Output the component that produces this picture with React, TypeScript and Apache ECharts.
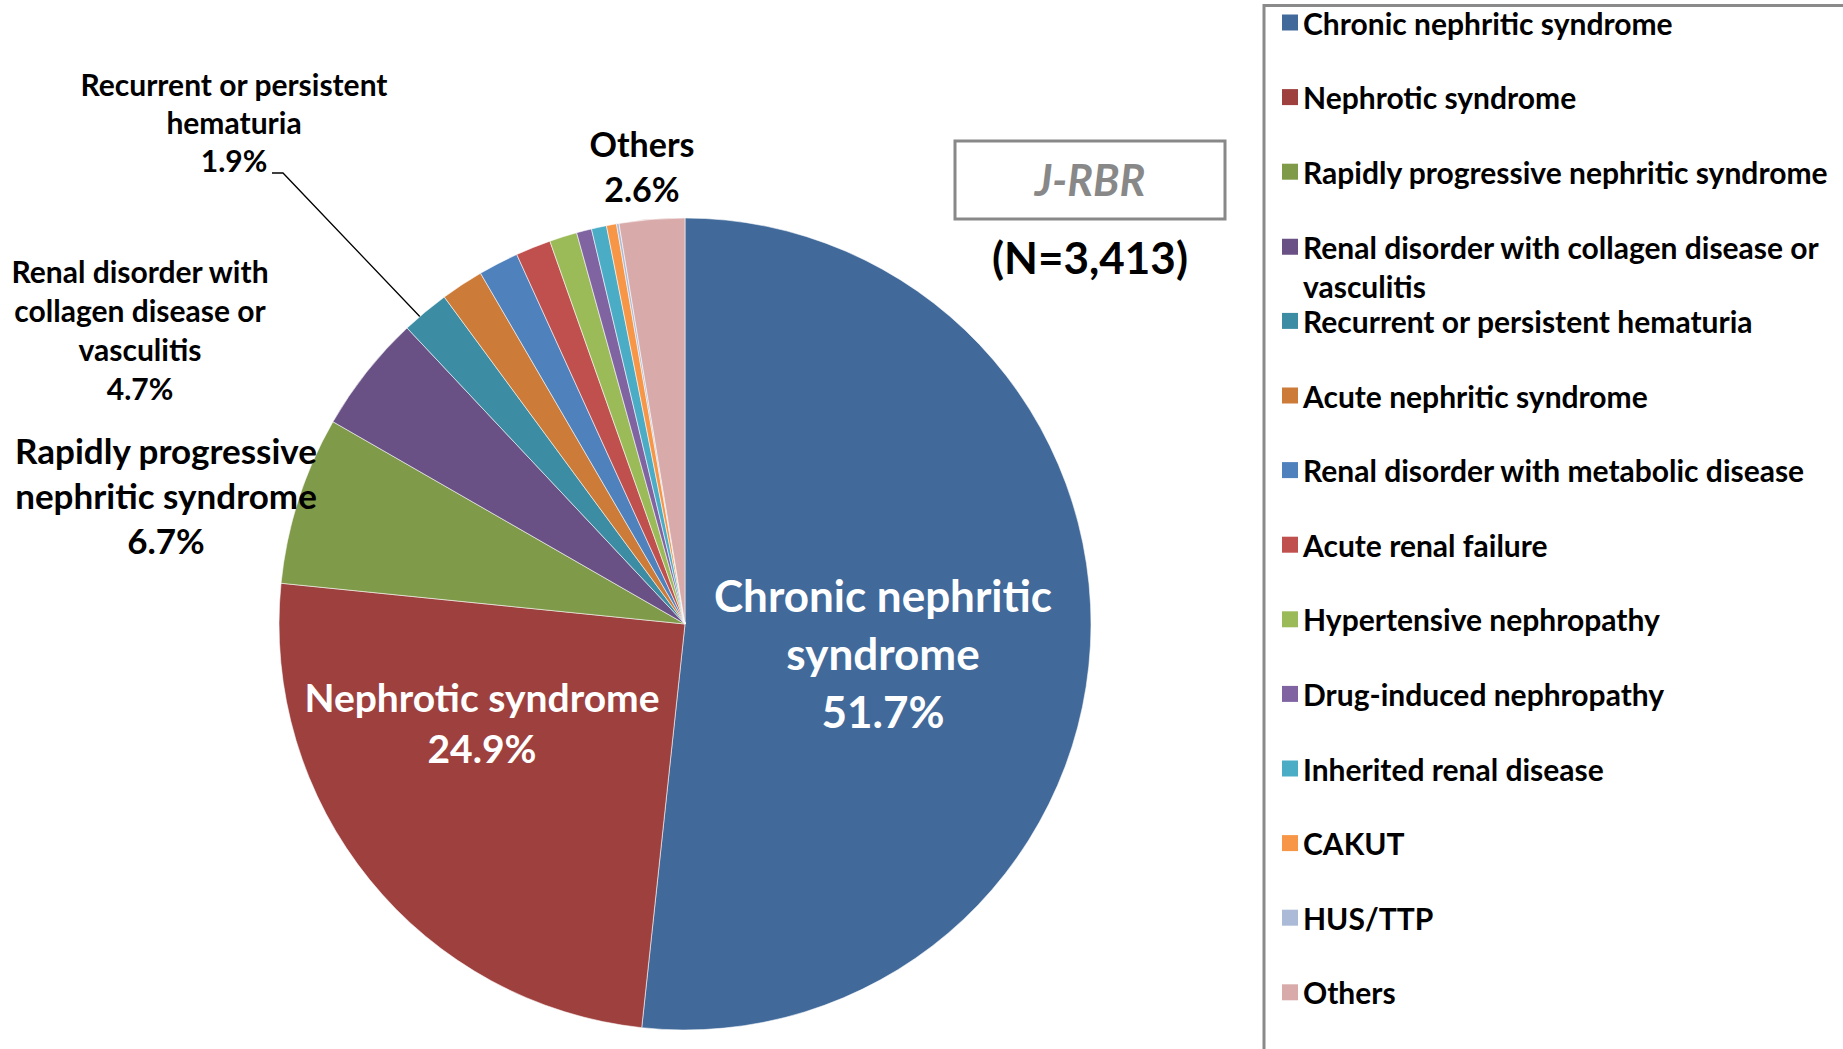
import React, { useEffect, useRef } from "react";
import * as echarts from "echarts";

const categories = [
  "Chronic nephritic syndrome",
  "Nephrotic syndrome",
  "Rapidly progressive nephritic syndrome",
  "Renal disorder with collagen disease or vasculitis",
  "Recurrent or persistent hematuria",
  "Acute nephritic syndrome",
  "Renal disorder with metabolic disease",
  "Acute renal failure",
  "Hypertensive nephropathy",
  "Drug-induced nephropathy",
  "Inherited renal disease",
  "CAKUT",
  "HUS/TTP",
  "Others",
];

const values = [51.7, 24.9, 6.7, 4.7, 1.9, 1.7, 1.6, 1.4, 1.1, 0.6, 0.6, 0.4, 0.1, 2.6];

const colors = [
  "#416A9B", "#9E413E", "#7F9A48", "#695185", "#3C8DA3", "#CC7B38", "#4F81BD",
  "#C0504D", "#9BBB59", "#8064A2", "#4BACC6", "#F79646", "#AABAD7", "#D9AAAA",
];

// label texts for the slices that carry a label on the chart
const sliceLabelTexts: Record<number, string> = {
  0: "Chronic nephritic\nsyndrome",
  1: "Nephrotic syndrome",
  2: "Rapidly progressive\nnephritic syndrome",
  3: "Renal disorder with\ncollagen disease or\nvasculitis",
  4: "Recurrent or persistent\nhematuria",
  13: "Others",
};

const title = "J-RBR";
const subtitle = "(N=3,413)";

const FONT = "Lato";

// label styles / placement (layout only)
const labelStyle: Record<number, any> = {
  0: { color: "#fff", fontSize: 44, lineHeight: 58, pos: [883, 653] },
  1: { color: "#fff", fontSize: 39, lineHeight: 51, pos: [482, 722] },
  2: { color: "#000", fontSize: 35, lineHeight: 45, pos: [166, 495] },
  3: { color: "#000", fontSize: 30, lineHeight: 39, pos: [140, 329] },
  4: { color: "#000", fontSize: 30, lineHeight: 38, pos: [234, 122] },
  13: { color: "#000", fontSize: 34, lineHeight: 45, pos: [642, 166] },
};

export default function App() {
  const ref = useRef<HTMLDivElement>(null);
  useEffect(() => {
    if (!ref.current) return;
    const chart = echarts.init(ref.current, null, { renderer: "svg" });

    const data = categories.map((name, i) => {
      const ls = labelStyle[i];
      return {
        name,
        value: values[i],
        itemStyle: { color: colors[i] },
        label: ls
          ? {
              show: true,
              position: i <= 1 ? "inside" : "outside",
              color: ls.color,
              fontSize: ls.fontSize,
              lineHeight: ls.lineHeight,
              fontFamily: FONT,
              fontWeight: "bold",
              align: "center",
              formatter: () => `${sliceLabelTexts[i]}\n${values[i].toFixed(1)}%`,
            }
          : { show: false },
        labelLine: { show: false },
      };
    });

    const legendStep = 74.6;
    const legends = categories.map((name, i) => {
      const isWrap = i === 3;
      return {
        show: true,
        orient: "vertical",
        left: 1282,
        top: 7.5 + i * legendStep - (isWrap ? 4 : 0),
        padding: 0,
        itemWidth: 16,
        itemHeight: isWrap ? 55 : 16,
        icon: isWrap ? "path://M0,0H16V16H0Z M0,55L0.01,55" : "rect",
        itemGap: 0,
        selectedMode: false,
        itemStyle: { borderWidth: 0 },
        textStyle: {
          fontFamily: FONT,
          fontWeight: "bold",
          fontSize: 30,
          lineHeight: isWrap ? 39 : undefined,
          color: "#000",
        },
        formatter: isWrap
          ? (n: string) => n.replace(" or vasculitis", " or\nvasculitis")
          : undefined,
        data: [name],
      };
    });

    chart.setOption({
      animation: false,
      backgroundColor: "#fff",
      legend: legends,
      series: [
        {
          type: "pie",
          center: [685, 624],
          radius: 406,
          startAngle: 90,
          clockwise: true,
          avoidLabelOverlap: false,
          itemStyle: { borderColor: "rgba(255,255,255,0.7)", borderWidth: 0.8 },
          emphasis: { disabled: true },
          data,
          labelLayout: (params: any) => {
            const ls = labelStyle[params.dataIndex];
            if (!ls) return {};
            return { x: ls.pos[0], y: ls.pos[1], align: "center", verticalAlign: "middle" };
          },
        },
      ],
      graphic: [
        {
          type: "rect",
          shape: { x: 1264, y: 5.5, width: 700, height: 1200 },
          style: { fill: "none", stroke: "#8a8a8a", lineWidth: 3 },
          silent: true,
        },
        {
          type: "polyline",
          shape: { points: [[272, 173], [283, 173], [425, 322]] },
          style: { stroke: "#000", lineWidth: 1.3, fill: "none" },
          silent: true,
        },
        {
          type: "rect",
          shape: { x: 955, y: 141, width: 270, height: 78 },
          style: { fill: "#fff", stroke: "#888", lineWidth: 3 },
          silent: true,
        },
        {
          type: "text",
          x: 1090,
          y: 179,
          style: {
            text: title,
            fill: "#888",
            font: `italic bold 43px ${FONT}`,
            align: "center",
            verticalAlign: "middle",
          },
          silent: true,
        },
        {
          type: "text",
          x: 1090,
          y: 257,
          style: {
            text: subtitle,
            fill: "#000",
            font: `bold 44px ${FONT}`,
            align: "center",
            verticalAlign: "middle",
          },
          silent: true,
        },
      ],
    });
    return () => chart.dispose();
  }, []);
  return (
    <div
      ref={ref}
      style={{ position: "fixed", left: 0, top: 0, width: 1843, height: 1049, background: "#fff" }}
    />
  );
}
